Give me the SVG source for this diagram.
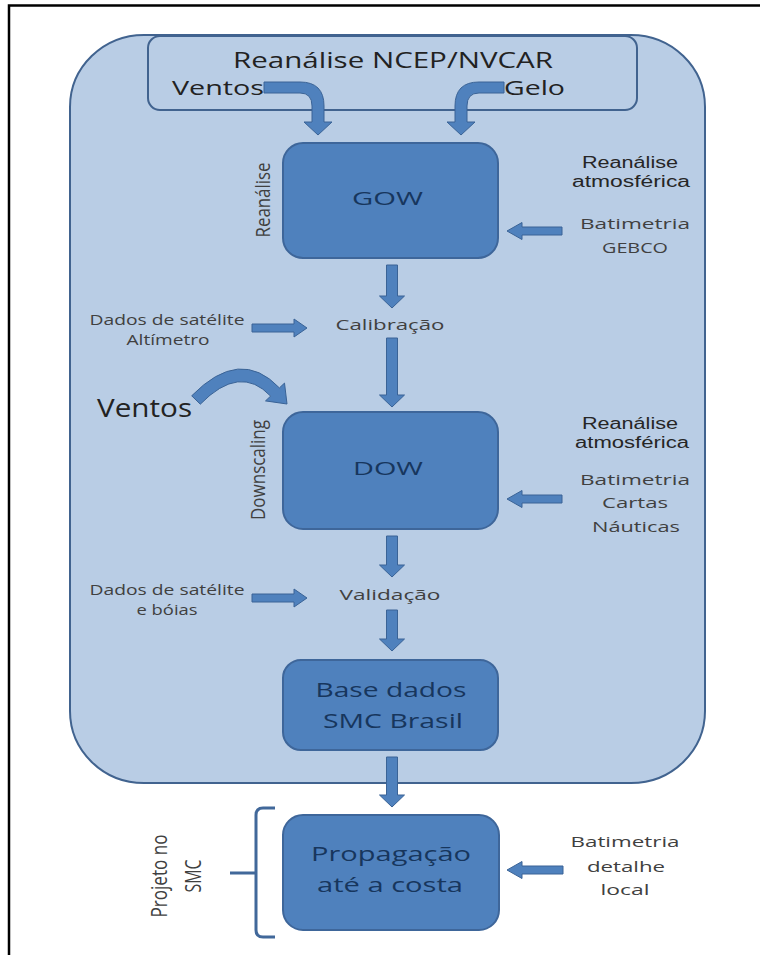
<svg xmlns="http://www.w3.org/2000/svg" width="760" height="955" viewBox="0 0 760 955">
<style>
.frame{stroke:#000;stroke-width:2.5;fill:none}
.cont{fill:#B9CDE5;stroke:#41638F;stroke-width:2}
.box{fill:#4F81BD;stroke:#3E669A;stroke-width:2}
.arr{fill:#4F81BD;stroke:#3A6396;stroke-width:1}
.brk{fill:none;stroke:#41689A;stroke-width:3}
.t{font-family:"Open Sans","DejaVu Sans",sans-serif;fill:#404040}
.a{font-family:"Liberation Sans",Arial,sans-serif;fill:#262626}
.bt{font-family:"Open Sans","DejaVu Sans",sans-serif;fill:#17365D}
.dk{font-family:"Open Sans","DejaVu Sans",sans-serif;fill:#222}
</style>
<rect width="760" height="955" fill="#fff"/>
<path class="frame" d="M9,955 L9,5.5 L760,5.5"/>

<g id="container">
<rect class="cont" x="70" y="35" width="635" height="748" rx="74" ry="72"/>
</g>

<g id="source">
<rect class="cont" x="148" y="36" width="489" height="74" rx="12" stroke-width="2.5"/>
<text class="dk" x="233" y="68" font-size="21" textLength="320" lengthAdjust="spacingAndGlyphs">Reanálise NCEP/NVCAR</text>
<text class="dk" x="172" y="95" font-size="20" textLength="92" lengthAdjust="spacingAndGlyphs">Ventos</text>
<text class="dk" x="504" y="95" font-size="20" textLength="61" lengthAdjust="spacingAndGlyphs">Gelo</text>
</g>

<g id="gow">
<rect class="box" x="283" y="143" width="215" height="115" rx="20"/>
<text class="bt" x="352" y="205" font-size="18" textLength="71" lengthAdjust="spacingAndGlyphs">GOW</text>
<text class="t" transform="translate(270,200) scale(1.4,1) rotate(-90)" font-size="14" text-anchor="middle" textLength="75" lengthAdjust="spacingAndGlyphs">Reanálise</text>
</g>

<g id="gow-inputs">
<text class="a" x="630" y="168" font-size="16" text-anchor="middle" textLength="96" lengthAdjust="spacingAndGlyphs">Reanálise</text>
<text class="a" x="631" y="187" font-size="16" text-anchor="middle" textLength="118" lengthAdjust="spacingAndGlyphs">atmosférica</text>
<text class="t" x="635" y="229" font-size="15" text-anchor="middle" textLength="110" lengthAdjust="spacingAndGlyphs">Batimetria</text>
<text class="t" x="635" y="253" font-size="15" text-anchor="middle" textLength="66" lengthAdjust="spacingAndGlyphs">GEBCO</text>
</g>

<g id="calibracao">
<text class="t" x="390" y="330" font-size="15" text-anchor="middle" textLength="109" lengthAdjust="spacingAndGlyphs">Calibração</text>
</g>

<g id="altimetro">
<text class="t" x="167" y="325" font-size="14" text-anchor="middle" textLength="155" lengthAdjust="spacingAndGlyphs">Dados de satélite</text>
<text class="t" x="168" y="345" font-size="14" text-anchor="middle" textLength="83" lengthAdjust="spacingAndGlyphs">Altímetro</text>
</g>

<g id="ventos">
<text class="dk" x="97" y="417" font-size="25" textLength="95" lengthAdjust="spacingAndGlyphs">Ventos</text>
</g>

<g id="dow">
<rect class="box" x="283" y="412" width="215" height="117" rx="20"/>
<text class="bt" x="353" y="475" font-size="18" textLength="70" lengthAdjust="spacingAndGlyphs">DOW</text>
<text class="t" transform="translate(265,470) scale(1.4,1) rotate(-90)" font-size="14" text-anchor="middle" textLength="100" lengthAdjust="spacingAndGlyphs">Downscaling</text>
</g>

<g id="dow-inputs">
<text class="a" x="630" y="429" font-size="16" text-anchor="middle" textLength="96" lengthAdjust="spacingAndGlyphs">Reanálise</text>
<text class="a" x="632" y="448" font-size="16" text-anchor="middle" textLength="114" lengthAdjust="spacingAndGlyphs">atmosférica</text>
<text class="t" x="635" y="485" font-size="15" text-anchor="middle" textLength="110" lengthAdjust="spacingAndGlyphs">Batimetria</text>
<text class="t" x="635" y="508" font-size="15" text-anchor="middle" textLength="66" lengthAdjust="spacingAndGlyphs">Cartas</text>
<text class="t" x="636" y="532" font-size="15" text-anchor="middle" textLength="88" lengthAdjust="spacingAndGlyphs">Náuticas</text>
</g>

<g id="validacao">
<text class="t" x="390" y="600" font-size="15" text-anchor="middle" textLength="101" lengthAdjust="spacingAndGlyphs">Validação</text>
</g>

<g id="boias">
<text class="t" x="167" y="595" font-size="14" text-anchor="middle" textLength="155" lengthAdjust="spacingAndGlyphs">Dados de satélite</text>
<text class="t" x="167" y="615" font-size="14" text-anchor="middle" textLength="61" lengthAdjust="spacingAndGlyphs">e bóias</text>
</g>

<g id="base">
<rect class="box" x="283" y="660" width="215" height="90" rx="18"/>
<text class="bt" x="391" y="697" font-size="20" text-anchor="middle" textLength="151" lengthAdjust="spacingAndGlyphs">Base dados</text>
<text class="bt" x="393" y="728" font-size="20" text-anchor="middle" textLength="140" lengthAdjust="spacingAndGlyphs">SMC Brasil</text>
</g>

<g id="propagacao">
<rect class="box" x="283" y="815" width="216" height="115" rx="20"/>
<text class="bt" x="391" y="861" font-size="20" text-anchor="middle" textLength="160" lengthAdjust="spacingAndGlyphs">Propagação</text>
<text class="bt" x="390" y="892" font-size="20" text-anchor="middle" textLength="146" lengthAdjust="spacingAndGlyphs">até a costa</text>
</g>

<g id="projeto">
<path class="brk" d="M275,808 L263,808 Q256,808 256,815 L256,930 Q256,937 263,937 L275,937 M230,873 L256,873"/>
<text class="t" transform="translate(167,876) scale(1.4,1) rotate(-90)" font-size="16" text-anchor="middle" textLength="83" lengthAdjust="spacingAndGlyphs">Projeto no</text>
<text class="t" transform="translate(201,876) scale(1.4,1) rotate(-90)" font-size="16" text-anchor="middle" textLength="33" lengthAdjust="spacingAndGlyphs">SMC</text>
</g>

<g id="local">
<text class="t" x="625" y="847" font-size="15" text-anchor="middle" textLength="109" lengthAdjust="spacingAndGlyphs">Batimetria</text>
<text class="t" x="626" y="872" font-size="15" text-anchor="middle" textLength="78" lengthAdjust="spacingAndGlyphs">detalhe</text>
<text class="t" x="625" y="895" font-size="15" text-anchor="middle" textLength="49" lengthAdjust="spacingAndGlyphs">local</text>
</g>

<g id="connectors">
<path class="arr" d="M264,82 L300,82 Q324,82 324,106 L324,122 L332,122 L318,135 L304,122 L312,122 L312,106 Q312,93 300,93 L264,93 Z"/>
<path class="arr" d="M504,82 L479,82 Q455,82 455,106 L455,122 L447,122 L461,135 L475,122 L467,122 L467,106 Q467,93 479,93 L504,93 Z"/>
<polygon class="arr" points="562,227 522,227 522,222.5 507,231 522,239.5 522,235 562,235"/>
<polygon class="arr" points="386.5,265 397.5,265 397.5,296 404.5,296 392,308 379.5,296 386.5,296"/>
<polygon class="arr" points="252,324 294,324 294,319 307,328 294,337 294,332 252,332"/>
<polygon class="arr" points="386.5,338 397.5,338 397.5,395 404.5,395 392,407 379.5,395 386.5,395"/>
<path class="arr" d="M191.7,395.8 Q240.1,346.4 279.4,387.9 L284.5,383.1 L287,404 L265.5,400.9 L270.6,396.1 Q239.9,363.6 200.3,404.2 Z"/>
<polygon class="arr" points="562,495 522,495 522,490.5 507,499 522,507.5 522,503 562,503"/>
<polygon class="arr" points="386.5,536 397.5,536 397.5,565 404.5,565 392,577 379.5,565 386.5,565"/>
<polygon class="arr" points="252,594 294,594 294,589 307,598 294,607 294,602 252,602"/>
<polygon class="arr" points="386.5,610 397.5,610 397.5,639 404.5,639 392,651 379.5,639 386.5,639"/>
<polygon class="arr" points="386.5,757 397.5,757 397.5,795 404.5,795 392,807 379.5,795 386.5,795"/>
<polygon class="arr" points="563,866 522,866 522,861.5 507,870 522,878.5 522,874 563,874"/>
</g>
</svg>
